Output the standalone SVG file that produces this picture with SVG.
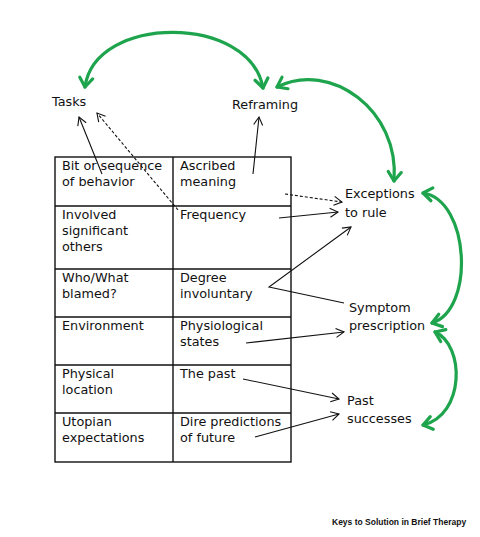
<svg xmlns="http://www.w3.org/2000/svg" width="480" height="537" viewBox="0 0 480 537">
<style>
text{font-family:"DejaVu Sans",Verdana,sans-serif;font-size:12.8px;fill:#111}
.grid{fill:none;stroke:#111;stroke-width:1.4}
.blk{fill:none;stroke:#111;stroke-width:1.1;marker-end:url(#ah)}
.dash{stroke-dasharray:3,2}
.grn{fill:none;stroke:#1ea44c;stroke-width:3.2;stroke-linecap:round;marker-start:url(#gh);marker-end:url(#gh)}
.foot{font-family:"Liberation Sans",Arial,sans-serif;font-weight:bold;font-size:8.5px}
</style>
<defs>
<marker id="ah" viewBox="-10 -6 12 12" markerWidth="12" markerHeight="12" refX="0" refY="0" orient="auto" markerUnits="userSpaceOnUse" overflow="visible">
<path d="M-8,-4.5 L0,0 L-8,4.5" fill="none" stroke="#111" stroke-width="1.1"/>
</marker>
<marker id="gh" viewBox="-12 -8 14 16" markerWidth="14" markerHeight="16" refX="0" refY="0" orient="auto-start-reverse" markerUnits="userSpaceOnUse" overflow="visible">
<path d="M-9,-6.5 L0,0 L-9,6.5" fill="none" stroke="#1ea44c" stroke-width="3.2" stroke-linecap="round" stroke-linejoin="round"/>
</marker>
</defs>
<rect width="480" height="537" fill="#fff"/>
<g id="table">
<rect class="grid" x="55" y="157" width="236" height="305"/>
<line class="grid" x1="173" y1="157" x2="173" y2="462"/>
<line class="grid" x1="55" y1="206" x2="291" y2="206"/>
<line class="grid" x1="55" y1="269" x2="291" y2="269"/>
<line class="grid" x1="55" y1="317" x2="291" y2="317"/>
<line class="grid" x1="55" y1="365" x2="291" y2="365"/>
<line class="grid" x1="55" y1="413" x2="291" y2="413"/>
</g>
<g id="cell-bit"><text x="62" y="170">Bit or sequence</text><text x="62" y="186">of behavior</text></g>
<g id="cell-ascribed"><text x="180" y="170">Ascribed</text><text x="180" y="186">meaning</text></g>
<g id="cell-involved"><text x="62" y="219">Involved</text><text x="62" y="235">significant</text><text x="62" y="251">others</text></g>
<g id="cell-frequency"><text x="180" y="219">Frequency</text></g>
<g id="cell-who"><text x="62" y="282">Who/What</text><text x="62" y="298">blamed?</text></g>
<g id="cell-degree"><text x="180" y="282">Degree</text><text x="180" y="298">involuntary</text></g>
<g id="cell-environment"><text x="62" y="330">Environment</text></g>
<g id="cell-physiological"><text x="180" y="330">Physiological</text><text x="180" y="346">states</text></g>
<g id="cell-physical"><text x="62" y="378">Physical</text><text x="62" y="394">location</text></g>
<g id="cell-past"><text x="180" y="378">The past</text></g>
<g id="cell-utopian"><text x="62" y="426">Utopian</text><text x="62" y="442">expectations</text></g>
<g id="cell-dire"><text x="180" y="426">Dire predictions</text><text x="180" y="442">of future</text></g>
<g id="tasks"><text x="52" y="106">Tasks</text></g>
<g id="reframing"><text x="232" y="109">Reframing</text></g>
<g id="exceptions"><text x="345" y="198">Exceptions</text><text x="345" y="217">to rule</text></g>
<g id="symptom"><text x="349" y="312">Symptom</text><text x="349" y="330">prescription</text></g>
<g id="past-successes"><text x="347" y="405">Past</text><text x="347" y="423">successes</text></g>
<g id="connectors">
<line class="blk" x1="102" y1="174" x2="79" y2="117"/>
<line class="blk dash" x1="178" y1="210" x2="97" y2="113"/>
<line class="blk" x1="253" y1="174" x2="259" y2="117"/>
<line class="blk dash" x1="285" y1="194" x2="342" y2="202"/>
<line class="blk" x1="279" y1="218" x2="338" y2="212"/>
<polyline class="blk" points="344,303 269,287 351,227"/>
<line class="blk" x1="246" y1="343" x2="344" y2="332"/>
<line class="blk" x1="243" y1="379" x2="339" y2="399"/>
<line class="blk" x1="255" y1="437" x2="339" y2="414"/>
<path class="grn" d="M85,87 C95,14 250,14 263,88"/>
<path class="grn" d="M277,87 C330,60 400,110 394,181"/>
<path class="grn" d="M423,193 C470,200 475,310 432,323"/>
<path class="grn" d="M435,332 C465,345 465,415 423,425"/>
</g>
<text class="foot" x="332" y="525">Keys to Solution in Brief Therapy</text>
</svg>
